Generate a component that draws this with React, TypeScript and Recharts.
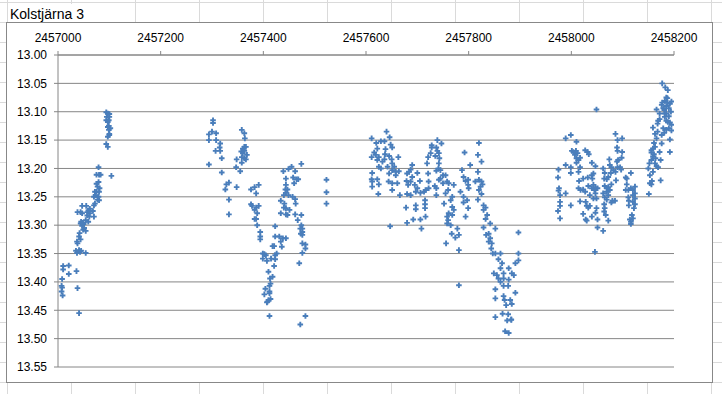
import React from "react";
import { ScatterChart, Scatter, XAxis, YAxis, CartesianGrid } from "recharts";

const TITLE = "Kolstjärna 3";
const JD0 = 2457000;
const xTicks = [2457000, 2457200, 2457400, 2457600, 2457800, 2458000, 2458200];
const yTicks = [13.0, 13.05, 13.1, 13.15, 13.2, 13.25, 13.3, 13.35, 13.4, 13.45, 13.5, 13.55];

// [days since JD0, magnitude]
const season1: [number, number][] = [
  [10,13.372],[10,13.378],[21,13.371],[21,13.386],[36,13.381],[8,13.395],[7,13.407],[8,13.41],[7,13.417],[9,13.424],[38,13.411],[41,13.455],
  [35,13.345],[37,13.349],[41,13.344],[43,13.347],[45,13.345],[54,13.349],
  [37,13.329],[38,13.332],[41,13.32],[42,13.314],[44,13.325],
  [47,13.301],[44,13.297],[48,13.296],[50,13.298],[45,13.294],[49,13.308],[54,13.31],[51,13.305],
  [38,13.277],[44,13.277],[47,13.279],[57,13.277],[62,13.279],[57,13.283],[70,13.285],[55,13.266],[47,13.266],[59,13.274],[62,13.271],[68,13.275],[61,13.285],[54,13.291],[59,13.294],
  [70,13.265],[72,13.262],[70,13.25],[73,13.247],[75,13.241],[79,13.25],[77,13.255],[80,13.256],[81,13.235],[77,13.232],[79,13.224],[75,13.227],[80,13.241],[72,13.241],
  [79,13.198],[80,13.211],[75,13.211],[83,13.211],[104,13.213],
  [94,13.101],[97,13.103],[100,13.104],[95,13.109],[100,13.109],[94,13.115],[99,13.115],[97,13.118],[99,13.125],[97,13.127],[102,13.129],[99,13.132],[100,13.141],[97,13.144],[94,13.157],[97,13.162],[100,13.139],
];

const season2: [number, number][] = [
  [302,13.115],[302,13.12],[300,13.135],[294,13.14],[308,13.138],[294,13.15],[308,13.15],[316,13.156],[315,13.163],[307,13.169],[316,13.169],[319,13.182],[294,13.193],[319,13.207],[328,13.228],[333,13.225],[326,13.237],[333,13.255],[333,13.281],
  [348,13.184],[347,13.198],[355,13.205],[348,13.233],
  [358,13.132],[363,13.138],[364,13.147],[363,13.162],[360,13.165],[366,13.162],[357,13.17],[360,13.173],[368,13.176],[358,13.18],[363,13.182],[366,13.184],[358,13.19],[363,13.169],
  [376,13.237],[383,13.233],[391,13.229],[386,13.244],[376,13.263],[378,13.266],[386,13.269],[391,13.266],[383,13.273],[388,13.279],[386,13.289],[383,13.289],[388,13.3],[394,13.312],[394,13.32],[394,13.325],
  [399,13.35],[402,13.351],[405,13.353],[399,13.359],[407,13.363],[418,13.337],[421,13.337],[426,13.35],[423,13.353],[415,13.359],[423,13.36],[421,13.372],[410,13.382],[418,13.391],[413,13.394],[414,13.403],[412,13.407],[404,13.412],[412,13.417],[402,13.422],[412,13.42],[414,13.43],[410,13.432],[408,13.435],[407,13.436],[412,13.46],
  [439,13.205],[449,13.201],[455,13.197],[462,13.205],[474,13.192],[444,13.218],[458,13.216],[465,13.219],[468,13.219],[444,13.229],[460,13.226],[443,13.237],[447,13.237],[444,13.243],[440,13.247],[449,13.247],[457,13.25],[462,13.254],[434,13.257],[441,13.262],[463,13.262],[440,13.269],[444,13.27],[434,13.279],[444,13.281],[447,13.282],[462,13.281],[451,13.273],[467,13.291],[474,13.282],
  [423,13.302],[431,13.32],[438,13.323],[444,13.323],[434,13.329],[423,13.32],[436,13.338],[474,13.3],[476,13.306],[472,13.306],[476,13.312],[473,13.315],[476,13.317],[476,13.332],[482,13.334],[482,13.341],[476,13.349],[470,13.367],[482,13.46],[472,13.475],
  [523,13.22],[523,13.242],[523,13.262],
];

const season3: [number, number][] = [
  [611,13.147],[620,13.155],[629,13.152],[636,13.152],[640,13.135],[646,13.145],[648,13.158],[651,13.163],[616,13.172],[622,13.165],[619,13.176],[625,13.18],[638,13.166],[637,13.175],[611,13.18],[622,13.185],[632,13.188],[636,13.184],[645,13.178],[650,13.184],[651,13.191],[663,13.18],[655,13.197],[642,13.197],[651,13.203],[658,13.206],[664,13.205],[612,13.208],[625,13.197],[629,13.2],[645,13.209],[658,13.212],[611,13.219],[612,13.223],[622,13.219],[612,13.232],[625,13.228],[644,13.223],[651,13.226],[661,13.226],[651,13.238],[666,13.247],[624,13.245],[647,13.302],
  [690,13.194],[687,13.202],[684,13.206],[700,13.208],[680,13.209],[690,13.215],[687,13.223],[679,13.222],[695,13.229],[700,13.235],[682,13.229],[705,13.222],[697,13.241],[687,13.247],[680,13.245],[706,13.243],[713,13.241],[716,13.238],[722,13.235],[715,13.256],[715,13.263],[715,13.27],[697,13.265],[697,13.272],[678,13.269],[706,13.29],[692,13.29],[680,13.296],[716,13.285],[708,13.306],[722,13.223],[721,13.209],
  [728,13.159],[728,13.163],[739,13.15],[747,13.156],[737,13.163],[739,13.169],[742,13.173],[726,13.173],[721,13.18],[735,13.178],[743,13.182],[742,13.191],[719,13.191],[741,13.2],[745,13.203],[737,13.204],[750,13.212],[745,13.218],[755,13.212],[758,13.223],[742,13.22],[734,13.231],[737,13.235],[737,13.247],[750,13.226],[761,13.226],[771,13.229],[760,13.238],[755,13.244],[768,13.25],[765,13.256],[752,13.262],[768,13.268],[771,13.273],[761,13.279],[768,13.282],[758,13.285],[760,13.291],[758,13.297],[765,13.3],[756,13.332],[767,13.315],[778,13.306],[781,13.317],[774,13.322],[781,13.344],[781,13.406],
  [787,13.203],[790,13.215],[794,13.222],[799,13.229],[800,13.235],[784,13.241],[790,13.25],[797,13.256],[790,13.26],[799,13.27],[794,13.285],[792,13.172],[803,13.194],[799,13.22],[813,13.223],[820,13.22],[825,13.223],[827,13.228],[823,13.232],[820,13.238],[825,13.245],[818,13.255],[820,13.155],[818,13.176],[825,13.188],[818,13.206],
  [829,13.265],[833,13.269],[829,13.273],[836,13.282],[833,13.289],[842,13.297],[852,13.306],[829,13.304],[839,13.315],[834,13.317],[842,13.323],[839,13.329],[845,13.332],[844,13.341],[847,13.35],[852,13.35],[862,13.35],[858,13.36],[865,13.367],[862,13.376],[849,13.385],[855,13.388],[868,13.385],[878,13.376],[884,13.385],[888,13.388],[891,13.367],[897,13.35],[897,13.362],[897,13.313],[858,13.394],[868,13.394],[878,13.396],[862,13.4],[852,13.413],[868,13.407],[877,13.407],[891,13.419],[852,13.429],[868,13.425],[870,13.432],[881,13.432],[884,13.439],[873,13.441],[852,13.462],[866,13.456],[877,13.457],[883,13.466],
  [871,13.487],[878,13.49],[875,13.468],[883,13.467],
];

const season4: [number, number][] = [
  [975,13.202],[974,13.216],[976,13.235],[975,13.239],[978,13.247],[978,13.259],[978,13.266],[974,13.275],[978,13.288],[989,13.244],[999,13.265],[989,13.194],[999,13.198],[989,13.147],[999,13.141],[1010,13.153],[1001,13.169],[1004,13.171],[1007,13.176],[1010,13.182],[1014,13.185],[1017,13.198],[1010,13.19],[1009,13.169],[1012,13.173],[1017,13.181],[999,13.208],[1014,13.206],[1015,13.222],[1014,13.235],[1018,13.238],[1017,13.258],[1023,13.218],[1027,13.168],[1032,13.171],[1034,13.175],[1032,13.216],[1023,13.237],[1027,13.241],[1028,13.259],[1030,13.266],[1033,13.269],[1036,13.266],[1023,13.28],[1028,13.29],[1030,13.292],[1040,13.285],[1040,13.19],[1047,13.196],[1040,13.212],[1041,13.218],[1043,13.209],[1033,13.231],[1040,13.235],[1043,13.229],[1045,13.238],[1047,13.244],[1036,13.247],[1043,13.253],[1049,13.253],[1051,13.235],[1047,13.233],[1049,13.27],[1047,13.278],[1051,13.29],[1051,13.304],[1062,13.31],[1046,13.347],[1049,13.096],
  [1062,13.2],[1065,13.208],[1064,13.218],[1069,13.219],[1072,13.215],[1065,13.231],[1069,13.235],[1072,13.233],[1069,13.241],[1062,13.244],[1065,13.251],[1069,13.255],[1064,13.263],[1072,13.247],[1075,13.238],[1078,13.228],[1077,13.208],[1078,13.198],[1075,13.194],[1074,13.184],[1082,13.203],[1080,13.257],[1078,13.26],[1085,13.257],[1087,13.221],[1086,13.206],[1090,13.198],[1089,13.188],[1091,13.185],[1097,13.202],[1098,13.181],[1095,13.198],[1090,13.169],[1089,13.163],[1090,13.15],[1086,13.139],[1099,13.147],[1099,13.171],[1064,13.276],[1067,13.282],[1072,13.292],[1065,13.27],
  [1106,13.216],[1108,13.218],[1108,13.228],[1106,13.238],[1111,13.238],[1112,13.257],[1112,13.265],[1111,13.251],[1116,13.208],[1116,13.235],[1124,13.232],[1120,13.238],[1124,13.244],[1120,13.247],[1124,13.253],[1120,13.259],[1124,13.263],[1118,13.282],[1116,13.294],[1114,13.29],[1120,13.288],[1116,13.298],[1122,13.27],
  [1150,13.2],[1152,13.191],[1153,13.212],[1156,13.168],[1159,13.165],[1156,13.172],[1159,13.179],[1161,13.175],[1163,13.162],[1164,13.182],[1156,13.185],[1163,13.191],[1166,13.196],[1159,13.206],[1153,13.226],[1156,13.228],[1151,13.245],[1157,13.222],[1169,13.198],[1174,13.185],[1174,13.221],[1172,13.171],[1161,13.155],[1166,13.147],[1163,13.139],[1159,13.128],[1168,13.135],[1169,13.116],[1168,13.121],[1172,13.113],[1176,13.141],[1176,13.156],[1181,13.137],[1179,13.129],[1185,13.132],[1172,13.103],[1176,13.088],[1166,13.096],[1177,13.084],[1182,13.081],[1185,13.075],[1187,13.076],[1188,13.062],[1183,13.057],[1177,13.05],[1181,13.097],[1185,13.103],[1190,13.108],[1192,13.086],[1195,13.082],[1194,13.1],[1182,13.109],[1185,13.116],[1192,13.119],[1195,13.123],[1190,13.129],[1195,13.133],[1192,13.149],[1192,13.171],[1188,13.118],[1185,13.09],[1182,13.103],[1179,13.094],[1190,13.094],[1187,13.084],
];

const points = [...season1, ...season2, ...season3, ...season4].map(([d, m]) => ({ jd: JD0 + d, mag: m }));

const MARKER = "#4A7EBB";
const AXIS = "#868686";
const FONT = "'Liberation Sans', Arial, sans-serif";

const PlusMarker = (props: any) => {
  const { cx, cy } = props;
  if (cx == null || cy == null) return null;
  const r = 2.8;
  return (
    <path
      d={`M${cx - r},${cy}H${cx + r}M${cx},${cy - r}V${cy + r}`}
      stroke={MARKER}
      strokeWidth={1.9}
      fill="none"
    />
  );
};

const cols = [7, 71, 135, 199, 263, 327, 391, 455, 519, 583, 647, 711];
const rows = Array.from({ length: 20 }, (_, i) => 2 + i * 20);

export default function App() {
  return (
    <div style={{ position: "absolute", left: 0, top: 0, width: 722, height: 394, background: "#fff", overflow: "hidden", fontFamily: FONT }}>
      {cols.map((x) => (
        <div key={"c" + x} style={{ position: "absolute", left: x, top: 0, width: 1, height: 394, background: "#dadada" }} />
      ))}
      {rows.map((y) => (
        <div key={"r" + y} style={{ position: "absolute", left: 0, top: y, width: 722, height: 1, background: "#dadada" }} />
      ))}
      <div style={{ position: "absolute", left: 10, top: 4, fontSize: 14, color: "#000", lineHeight: "20px", background: "#fff", paddingRight: 2 }}>{TITLE}</div>
      <div style={{ position: "absolute", left: 6, top: 22, width: 705, height: 359, border: "1px solid #888", background: "#fff" }} />
      <div style={{ position: "absolute", left: 0, top: 0 }}>
        <ScatterChart width={722} height={394} margin={{ top: 25, right: 48, bottom: 27, left: 0 }}>
          <CartesianGrid horizontal vertical={false} stroke={AXIS} strokeWidth={1} />
          <XAxis
            type="number"
            dataKey="jd"
            orientation="top"
            domain={[2457000, 2458200]}
            ticks={xTicks}
            allowDataOverflow
            height={30}
            tickSize={4}
            tickMargin={9}
            axisLine={{ stroke: AXIS }}
            tickLine={{ stroke: AXIS }}
            tick={{ fill: "#000", fontSize: 12, fontFamily: FONT }}
          />
          <YAxis
            type="number"
            dataKey="mag"
            reversed
            domain={[13.0, 13.55]}
            ticks={yTicks}
            allowDataOverflow
            width={58}
            tickSize={4}
            tickMargin={7}
            tickFormatter={(v: number) => v.toFixed(2)}
            axisLine={{ stroke: AXIS }}
            tickLine={{ stroke: AXIS }}
            tick={{ fill: "#000", fontSize: 12, fontFamily: FONT }}
          />
          <Scatter data={points} shape={PlusMarker} isAnimationActive={false} />
        </ScatterChart>
      </div>
    </div>
  );
}
